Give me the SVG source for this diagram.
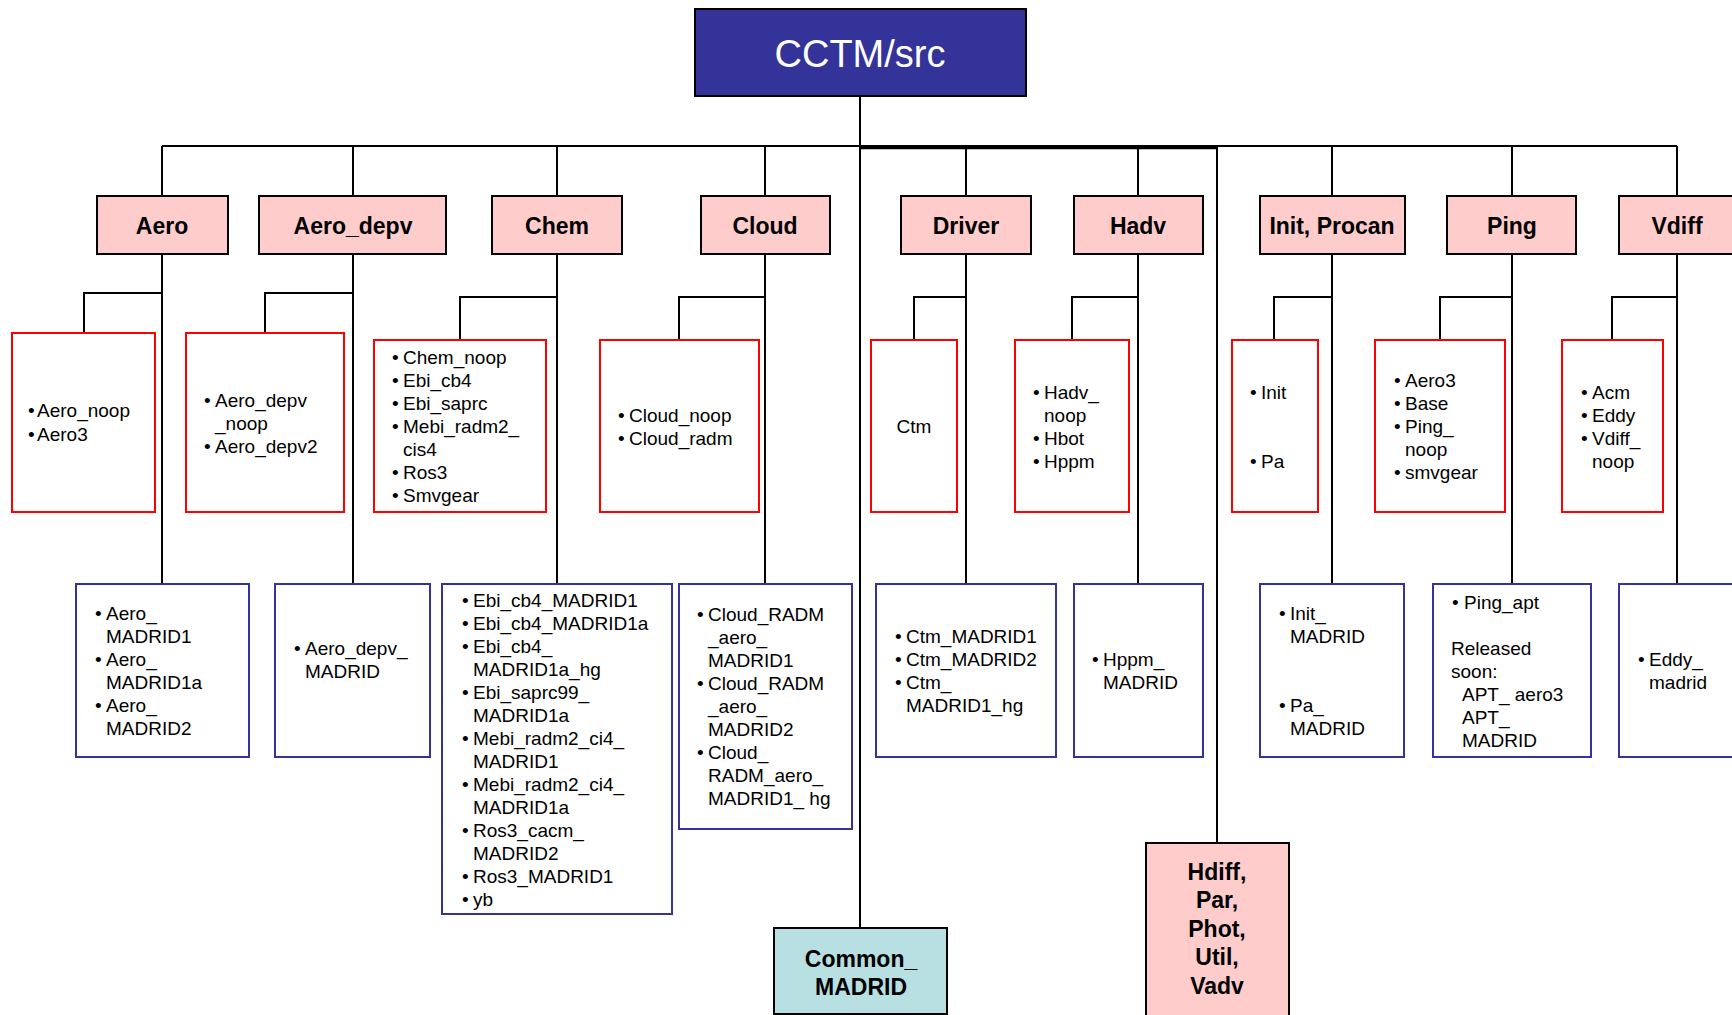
<svg xmlns="http://www.w3.org/2000/svg" width="1732" height="1015" viewBox="0 0 1732 1015">
<style>
  text { font-family: "Liberation Sans", Arial, Helvetica, sans-serif; fill: #000; }
  .hdr { fill: #FFCCCC; stroke: #000; stroke-width: 2; }
  .root { fill: #333399; stroke: #000; stroke-width: 2; }
  .common { fill: #B8DFE1; stroke: #000; stroke-width: 2; }
  .red { fill: #fff; stroke: #FF0000; stroke-width: 2; }
  .blue { fill: #fff; stroke: #333399; stroke-width: 2; }
  .h { font-size: 23px; font-weight: bold; text-anchor: middle; }
  .t { font-size: 19px; }
  .c { text-anchor: middle; }
  .lnk { fill: none; stroke: #000; stroke-width: 2; }
</style>
<rect width="1732" height="1015" fill="#fff"/>

<!-- tree connectors -->
<g id="connectors" class="lnk">
  <path d="M860 96 V146"/>
  <path d="M162 146 H1677"/>
  <path d="M860 147.5 H1217" stroke-width="3.5"/>
  <path d="M162 146 V196 M353 146 V196 M557 146 V196 M765 146 V196 M966 146 V196 M1138 146 V196 M1332 146 V196 M1512 146 V196 M1677 146 V196"/>
  <path d="M162 254 V584 M353 254 V584 M557 254 V584 M765 254 V584 M966 254 V584 M1138 254 V584 M1332 254 V584 M1512 254 V584 M1677 254 V584"/>
  <path d="M162 293 H84 V333"/>
  <path d="M353 293 H265 V333"/>
  <path d="M557 297 H460 V340"/>
  <path d="M765 297 H679 V340"/>
  <path d="M966 297 H914 V340"/>
  <path d="M1138 297 H1072 V340"/>
  <path d="M1332 297 H1274 V340"/>
  <path d="M1512 297 H1440 V340"/>
  <path d="M1677 297 H1612 V340"/>
  <path d="M860 146 V928"/>
  <path d="M1217 146 V843"/>
</g>

<!-- root -->
<g id="cctm-src">
  <rect class="root" x="695" y="9" width="331" height="87"/>
  <text x="860" y="67" font-size="38" fill="#fff" style="fill:#fff" text-anchor="middle">CCTM/src</text>
</g>

<!-- module headers -->
<g id="aero"><rect class="hdr" x="97" y="196" width="131" height="58"/><text class="h" x="162" y="234">Aero</text></g>
<g id="aero-depv"><rect class="hdr" x="259" y="196" width="187" height="58"/><text class="h" x="353" y="234">Aero_depv</text></g>
<g id="chem"><rect class="hdr" x="492" y="196" width="130" height="58"/><text class="h" x="557" y="234">Chem</text></g>
<g id="cloud"><rect class="hdr" x="701" y="196" width="129" height="58"/><text class="h" x="765" y="234">Cloud</text></g>
<g id="driver"><rect class="hdr" x="901" y="196" width="130" height="58"/><text class="h" x="966" y="234">Driver</text></g>
<g id="hadv"><rect class="hdr" x="1074" y="196" width="129" height="58"/><text class="h" x="1138" y="234">Hadv</text></g>
<g id="init-procan"><rect class="hdr" x="1260" y="196" width="145" height="58"/><text class="h" x="1332" y="234">Init, Procan</text></g>
<g id="ping"><rect class="hdr" x="1447" y="196" width="129" height="58"/><text class="h" x="1512" y="234">Ping</text></g>
<g id="vdiff"><rect class="hdr" x="1619" y="196" width="140" height="58"/><text class="h" x="1677" y="234">Vdiff</text></g>

<!-- standard variants -->
<g id="aero-std">
  <rect class="red" x="12" y="333" width="143" height="179"/>
  <text class="t" y="417"><tspan x="28">•</tspan><tspan x="37">Aero_noop</tspan></text>
  <text class="t" y="441"><tspan x="28">•</tspan><tspan x="37">Aero3</tspan></text>
</g>
<g id="aero-depv-std">
  <rect class="red" x="186" y="333" width="158" height="179"/>
  <text class="t" y="407"><tspan x="204">•</tspan><tspan x="215">Aero_depv</tspan></text>
  <text class="t" x="215" y="430">_noop</text>
  <text class="t" y="453"><tspan x="204">•</tspan><tspan x="215">Aero_depv2</tspan></text>
</g>
<g id="chem-std">
  <rect class="red" x="374" y="340" width="172" height="172"/>
  <text class="t" y="364"><tspan x="392">•</tspan><tspan x="403">Chem_noop</tspan></text>
  <text class="t" y="387"><tspan x="392">•</tspan><tspan x="403">Ebi_cb4</tspan></text>
  <text class="t" y="410"><tspan x="392">•</tspan><tspan x="403">Ebi_saprc</tspan></text>
  <text class="t" y="433"><tspan x="392">•</tspan><tspan x="403">Mebi_radm2_</tspan></text>
  <text class="t" x="403" y="456">cis4</text>
  <text class="t" y="479"><tspan x="392">•</tspan><tspan x="403">Ros3</tspan></text>
  <text class="t" y="502"><tspan x="392">•</tspan><tspan x="403">Smvgear</tspan></text>
</g>
<g id="cloud-std">
  <rect class="red" x="600" y="340" width="159" height="172"/>
  <text class="t" y="422"><tspan x="618">•</tspan><tspan x="629">Cloud_noop</tspan></text>
  <text class="t" y="445"><tspan x="618">•</tspan><tspan x="629">Cloud_radm</tspan></text>
</g>
<g id="driver-std">
  <rect class="red" x="871" y="340" width="86" height="172"/>
  <text class="t c" x="914" y="433">Ctm</text>
</g>
<g id="hadv-std">
  <rect class="red" x="1015" y="340" width="114" height="172"/>
  <text class="t" y="399"><tspan x="1033">•</tspan><tspan x="1044">Hadv_</tspan></text>
  <text class="t" x="1044" y="422">noop</text>
  <text class="t" y="445"><tspan x="1033">•</tspan><tspan x="1044">Hbot</tspan></text>
  <text class="t" y="468"><tspan x="1033">•</tspan><tspan x="1044">Hppm</tspan></text>
</g>
<g id="init-std">
  <rect class="red" x="1232" y="340" width="86" height="172"/>
  <text class="t" y="399"><tspan x="1250">•</tspan><tspan x="1261">Init</tspan></text>
  <text class="t" y="468"><tspan x="1250">•</tspan><tspan x="1261">Pa</tspan></text>
</g>
<g id="ping-std">
  <rect class="red" x="1375" y="340" width="130" height="172"/>
  <text class="t" y="387"><tspan x="1394">•</tspan><tspan x="1405">Aero3</tspan></text>
  <text class="t" y="410"><tspan x="1394">•</tspan><tspan x="1405">Base</tspan></text>
  <text class="t" y="433"><tspan x="1394">•</tspan><tspan x="1405">Ping_</tspan></text>
  <text class="t" x="1405" y="456">noop</text>
  <text class="t" y="479"><tspan x="1394">•</tspan><tspan x="1405">smvgear</tspan></text>
</g>
<g id="vdiff-std">
  <rect class="red" x="1562" y="340" width="101" height="172"/>
  <text class="t" y="399"><tspan x="1581">•</tspan><tspan x="1592">Acm</tspan></text>
  <text class="t" y="422"><tspan x="1581">•</tspan><tspan x="1592">Eddy</tspan></text>
  <text class="t" y="445"><tspan x="1581">•</tspan><tspan x="1592">Vdiff_</tspan></text>
  <text class="t" x="1592" y="468">noop</text>
</g>

<!-- MADRID variants -->
<g id="aero-madrid">
  <rect class="blue" x="76" y="584" width="173" height="173"/>
  <text class="t" y="620"><tspan x="95">•</tspan><tspan x="106">Aero_</tspan></text>
  <text class="t" x="106" y="643">MADRID1</text>
  <text class="t" y="666"><tspan x="95">•</tspan><tspan x="106">Aero_</tspan></text>
  <text class="t" x="106" y="689">MADRID1a</text>
  <text class="t" y="712"><tspan x="95">•</tspan><tspan x="106">Aero_</tspan></text>
  <text class="t" x="106" y="735">MADRID2</text>
</g>
<g id="aero-depv-madrid">
  <rect class="blue" x="275" y="584" width="155" height="173"/>
  <text class="t" y="655"><tspan x="294">•</tspan><tspan x="305">Aero_depv_</tspan></text>
  <text class="t" x="305" y="678">MADRID</text>
</g>
<g id="chem-madrid">
  <rect class="blue" x="442" y="584" width="230" height="330"/>
  <text class="t" y="607"><tspan x="462">•</tspan><tspan x="473">Ebi_cb4_MADRID1</tspan></text>
  <text class="t" y="630"><tspan x="462">•</tspan><tspan x="473">Ebi_cb4_MADRID1a</tspan></text>
  <text class="t" y="653"><tspan x="462">•</tspan><tspan x="473">Ebi_cb4_</tspan></text>
  <text class="t" x="473" y="676">MADRID1a_hg</text>
  <text class="t" y="699"><tspan x="462">•</tspan><tspan x="473">Ebi_saprc99_</tspan></text>
  <text class="t" x="473" y="722">MADRID1a</text>
  <text class="t" y="745"><tspan x="462">•</tspan><tspan x="473">Mebi_radm2_ci4_</tspan></text>
  <text class="t" x="473" y="768">MADRID1</text>
  <text class="t" y="791"><tspan x="462">•</tspan><tspan x="473">Mebi_radm2_ci4_</tspan></text>
  <text class="t" x="473" y="814">MADRID1a</text>
  <text class="t" y="837"><tspan x="462">•</tspan><tspan x="473">Ros3_cacm_</tspan></text>
  <text class="t" x="473" y="860">MADRID2</text>
  <text class="t" y="883"><tspan x="462">•</tspan><tspan x="473">Ros3_MADRID1</tspan></text>
  <text class="t" y="906"><tspan x="462">•</tspan><tspan x="473">yb</tspan></text>
</g>
<g id="cloud-madrid">
  <rect class="blue" x="679" y="584" width="173" height="245"/>
  <text class="t" y="621"><tspan x="697">•</tspan><tspan x="708">Cloud_RADM</tspan></text>
  <text class="t" x="708" y="644">_aero_</text>
  <text class="t" x="708" y="667">MADRID1</text>
  <text class="t" y="690"><tspan x="697">•</tspan><tspan x="708">Cloud_RADM</tspan></text>
  <text class="t" x="708" y="713">_aero_</text>
  <text class="t" x="708" y="736">MADRID2</text>
  <text class="t" y="759"><tspan x="697">•</tspan><tspan x="708">Cloud_</tspan></text>
  <text class="t" x="708" y="782">RADM_aero_</text>
  <text class="t" x="708" y="805">MADRID1_ hg</text>
</g>
<g id="driver-madrid">
  <rect class="blue" x="876" y="584" width="180" height="173"/>
  <text class="t" y="643"><tspan x="895">•</tspan><tspan x="906">Ctm_MADRID1</tspan></text>
  <text class="t" y="666"><tspan x="895">•</tspan><tspan x="906">Ctm_MADRID2</tspan></text>
  <text class="t" y="689"><tspan x="895">•</tspan><tspan x="906">Ctm_</tspan></text>
  <text class="t" x="906" y="712">MADRID1_hg</text>
</g>
<g id="hadv-madrid">
  <rect class="blue" x="1074" y="584" width="129" height="173"/>
  <text class="t" y="666"><tspan x="1092">•</tspan><tspan x="1103">Hppm_</tspan></text>
  <text class="t" x="1103" y="689">MADRID</text>
</g>
<g id="init-madrid">
  <rect class="blue" x="1260" y="584" width="144" height="173"/>
  <text class="t" y="620"><tspan x="1279">•</tspan><tspan x="1290">Init_</tspan></text>
  <text class="t" x="1290" y="643">MADRID</text>
  <text class="t" y="712"><tspan x="1279">•</tspan><tspan x="1290">Pa_</tspan></text>
  <text class="t" x="1290" y="735">MADRID</text>
</g>
<g id="ping-madrid">
  <rect class="blue" x="1433" y="584" width="158" height="173"/>
  <text class="t" y="609"><tspan x="1452">•</tspan><tspan x="1464">Ping_apt</tspan></text>
  <text class="t" x="1451" y="655">Released</text>
  <text class="t" x="1451" y="678">soon:</text>
  <text class="t" x="1462" y="701">APT_ aero3</text>
  <text class="t" x="1462" y="724">APT_</text>
  <text class="t" x="1462" y="747">MADRID</text>
</g>
<g id="vdiff-madrid">
  <rect class="blue" x="1619" y="584" width="140" height="173"/>
  <text class="t" y="666"><tspan x="1638">•</tspan><tspan x="1649">Eddy_</tspan></text>
  <text class="t" x="1649" y="689">madrid</text>
</g>

<!-- shared modules -->
<g id="common-madrid">
  <rect class="common" x="774" y="928" width="173" height="86"/>
  <text class="h" x="861" y="967">Common_</text>
  <text class="h" x="861" y="995">MADRID</text>
</g>
<g id="hdiff-group">
  <rect class="hdr" x="1146" y="843" width="143" height="190"/>
  <text class="h" x="1217" y="880">Hdiff,</text>
  <text class="h" x="1217" y="908">Par,</text>
  <text class="h" x="1217" y="937">Phot,</text>
  <text class="h" x="1217" y="965">Util,</text>
  <text class="h" x="1217" y="994">Vadv</text>
</g>
</svg>
